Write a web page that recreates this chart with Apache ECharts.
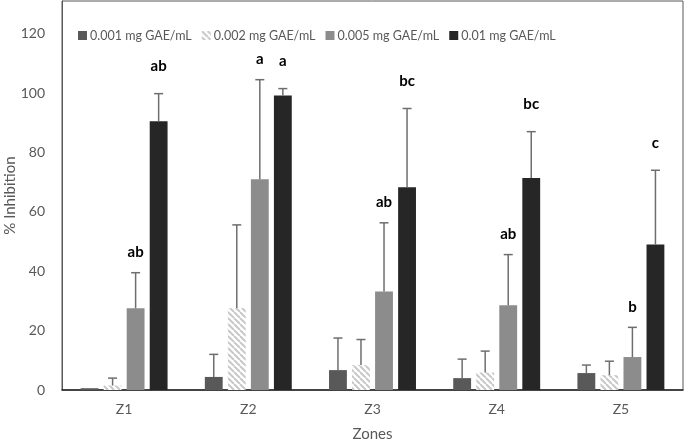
<!DOCTYPE html>
<html>
<head>
<meta charset="utf-8">
<script src="https://cdn.jsdelivr.net/npm/echarts@6/dist/echarts.min.js"></script>
<style>html,body{margin:0;padding:0;background:#fff}#c{width:685px;height:442px}</style>
</head>
<body>
<div id="c"></div>
<script>
const categories = ['Z1', 'Z2', 'Z3', 'Z4', 'Z5'];
const seriesNames = ['0.001 mg GAE/mL', '0.002 mg GAE/mL', '0.005 mg GAE/mL', '0.01 mg GAE/mL'];
const s1 = [0.6, 4.4, 6.7, 4.0, 5.7];
const s1Sd = [0, 7.6, 10.8, 6.4, 2.7];
const s2 = [1.5, 27.5, 8.4, 5.9, 5.0];
const s2Sd = [2.5, 28.1, 8.6, 7.2, 4.7];
const s3 = [27.5, 71.0, 33.2, 28.5, 11.1];
const s3Sd = [12.0, 33.5, 23.1, 17.1, 10.0];
const s4 = [90.5, 99.2, 68.3, 71.4, 49.0];
const s4Sd = [9.3, 2.3, 26.5, 15.6, 25.0];
const s3Letters = ['ab', 'a', 'ab', 'ab', 'b'];
const s4Letters = ['ab', 'a', 'bc', 'bc', 'c'];
const yTicks = [0, 20, 40, 60, 80, 100, 120];

const values = [s1, s2, s3, s4];
const sds = [s1Sd, s2Sd, s3Sd, s4Sd];
const letters = [null, null, s3Letters, s4Letters];
const letterGap = [0, 0, 13, 20];

const FONT = 'Lato, "Liberation Sans", Arial, sans-serif';

// hatch pattern
const pat = document.createElement('canvas');
pat.width = 6; pat.height = 6;
const pc = pat.getContext('2d');
pc.fillStyle = '#ffffff'; pc.fillRect(0, 0, 6, 6);
pc.strokeStyle = '#c8c8c8'; pc.lineWidth = 2;
[-6, 0, 6].forEach(o => { pc.beginPath(); pc.moveTo(o, 0); pc.lineTo(o + 6, 6); pc.stroke(); });

const colors = ['#595959', {image: pat, repeat: 'repeat'}, '#8c8c8c', '#262626'];
const BAR_CAT_GAP = 0.30, BAR_GAP = 0.29;

const series = [];
values.forEach((v, i) => {
  series.push({
    name: seriesNames[i], type: 'bar', data: v,
    barCategoryGap: '30%', barGap: '29%',
    itemStyle: {color: colors[i]},
    z: 2
  });
});
values.forEach((v, i) => {
  series.push({
    type: 'custom', z: 5, silent: true,
    data: v.map((val, k) => [k, val, val + sds[i][k]]),
    renderItem: function (params, api) {
      const k = api.value(0);
      const catW = api.size([1, 0])[0];
      const bw = catW * (1 - BAR_CAT_GAP) / (4 + 3 * BAR_GAP);
      const off = (i - 1.5) * bw * (1 + BAR_GAP);
      const pBase = api.coord([k, api.value(1)]);
      const pTop = api.coord([k, api.value(2)]);
      const x = pBase[0] + off;
      const children = [];
      if (api.value(2) > api.value(1)) {
        children.push({type: 'line', shape: {x1: x, y1: pBase[1], x2: x, y2: pTop[1]}, style: {stroke: '#6e6e6e', lineWidth: 1.5}});
        children.push({type: 'line', shape: {x1: x - 4.5, y1: pTop[1], x2: x + 4.5, y2: pTop[1]}, style: {stroke: '#6e6e6e', lineWidth: 1.5}});
      }
      if (letters[i]) {
        children.push({type: 'text', x: x, y: pTop[1] - letterGap[i], style: {text: letters[i][k], fill: '#000', font: 'bold 15px ' + FONT, align: 'center', verticalAlign: 'bottom'}});
      }
      return {type: 'group', children: children};
    }
  });
});

const chart = echarts.init(document.getElementById('c'));
chart.setOption({
  animation: false,
  backgroundColor: '#fff',
  textStyle: {fontFamily: FONT},
  legend: {
    data: seriesNames, left: 73, top: 24, itemWidth: 9, itemHeight: 9, itemGap: 10,
    icon: 'rect', textStyle: {fontSize: 12.5, color: '#595959', padding: [0, 0, 0, -2], fontFamily: FONT}
  },
  grid: {left: 62, right: 2, top: 1, bottom: 52, show: true, borderColor: '#595959', borderWidth: 1, outerBoundsMode: 'none', containLabel: false},
  xAxis: {
    type: 'category', data: categories,
    name: 'Zones', nameLocation: 'middle', nameGap: 37, nameMoveOverlap: false,
    nameTextStyle: {fontSize: 15, color: '#595959', fontFamily: FONT},
    axisTick: {show: false},
    axisLine: {lineStyle: {color: '#222', width: 1.5}},
    axisLabel: {fontSize: 14, color: '#595959', margin: 12, fontFamily: FONT}
  },
  yAxis: {
    type: 'value', min: 0, max: 131, interval: 20,
    name: '% Inhibition', nameLocation: 'middle', nameGap: 44, nameMoveOverlap: false,
    nameTextStyle: {fontSize: 15, color: '#595959', fontFamily: FONT},
    splitLine: {show: false}, axisTick: {show: false},
    axisLine: {show: true, lineStyle: {color: '#595959', width: 1}},
    axisLabel: {fontSize: 14, color: '#595959', margin: 17, showMaxLabel: false, fontFamily: FONT,
      formatter: v => yTicks.indexOf(v) >= 0 ? String(v) : ''}
  },
  series: series
});
</script>
</body>
</html>
